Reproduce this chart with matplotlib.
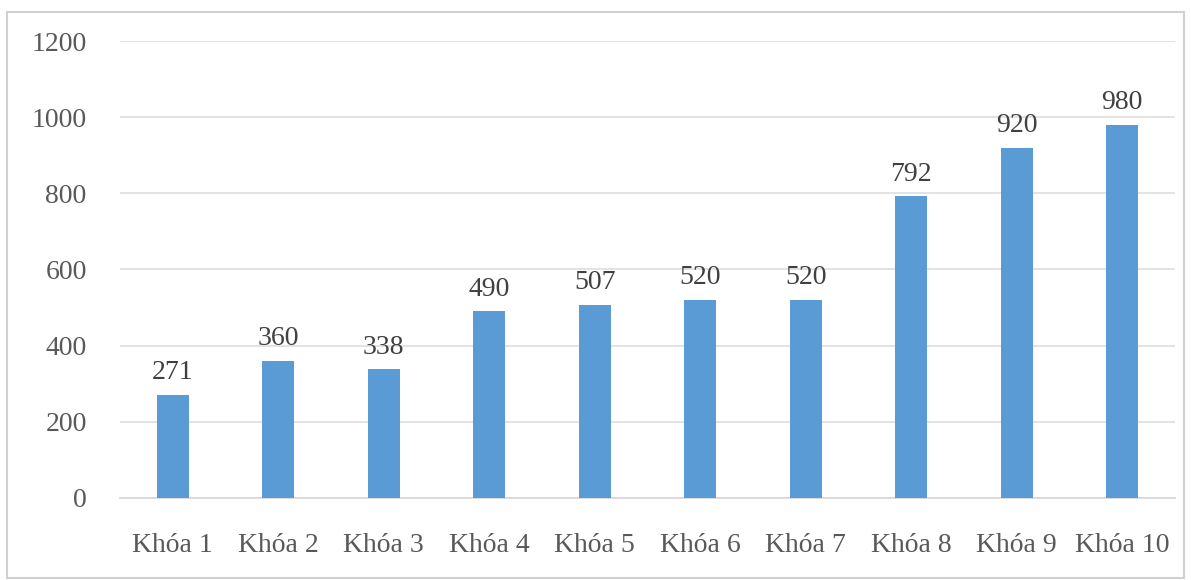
import matplotlib.pyplot as plt
from matplotlib.patches import Rectangle

categories = ['Khóa 1', 'Khóa 2', 'Khóa 3', 'Khóa 4', 'Khóa 5',
              'Khóa 6', 'Khóa 7', 'Khóa 8', 'Khóa 9', 'Khóa 10']
values = [271, 360, 338, 490, 507, 520, 520, 792, 920, 980]
yticks = [0, 200, 400, 600, 800, 1000, 1200]

plt.rcParams['font.family'] = ['Liberation Serif', 'DejaVu Serif']

fig = plt.figure(figsize=(11.91, 5.8), dpi=100)
ax = fig.add_axes([0.1008, 0.1414, 0.8858, 0.7879])

bars = ax.bar(range(len(values)), values, width=0.30, color='#5B9BD5', zorder=3)
ax.bar_label(bars, labels=[str(v) for v in values], padding=7,
             fontsize=20, color='#404040')

ax.set_xlim(-0.5, len(values) - 0.5)
ax.set_ylim(0, 1200)
ax.set_yticks(yticks)
ax.set_xticks(range(len(values)))
ax.set_xticklabels(categories)
ax.tick_params(axis='y', length=0, pad=24, labelsize=20, labelcolor='#595959')
ax.tick_params(axis='x', length=0, pad=25, labelsize=20, labelcolor='#595959')

ax.grid(axis='y', color='#E0E0E0', linewidth=1.3, zorder=0)
for s in ['top', 'right', 'left']:
    ax.spines[s].set_visible(False)
ax.spines['bottom'].set_color('#D9D9D9')
ax.spines['bottom'].set_linewidth(1.3)

# light border around the chart area
fig.patches.append(Rectangle((0.006, 0.004), 0.988, 0.976, transform=fig.transFigure,
                             fill=False, edgecolor='#D0D0D0', linewidth=1.5))

fig.savefig('out.png', dpi=100)
